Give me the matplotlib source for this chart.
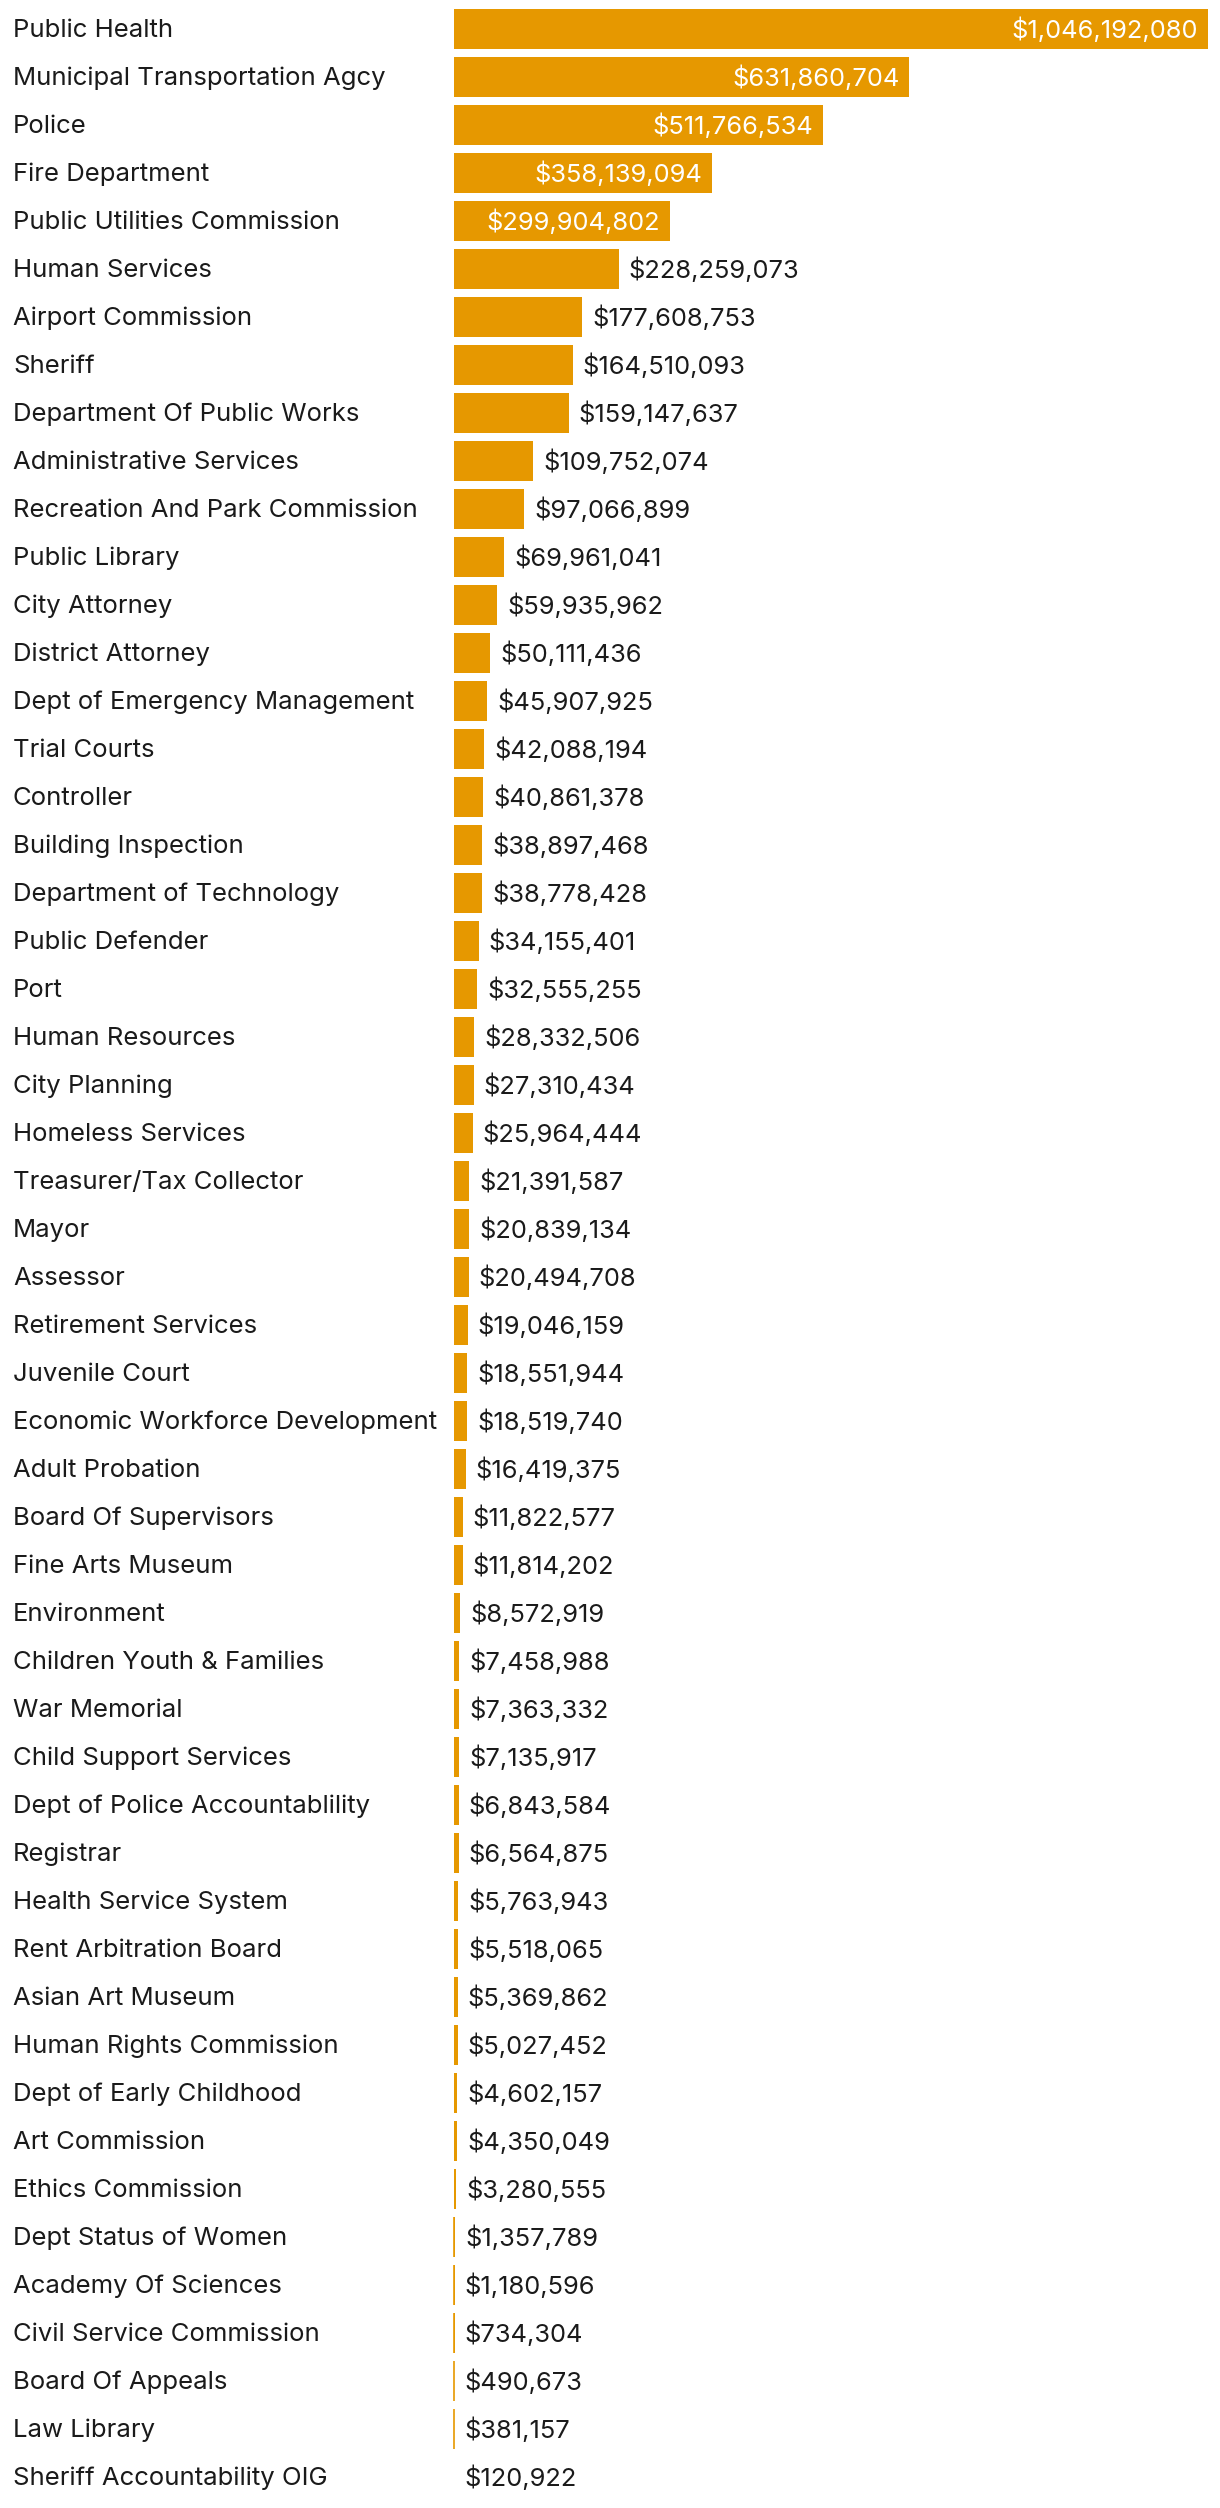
import matplotlib
matplotlib.use("Agg")
import matplotlib.pyplot as plt
import matplotlib.transforms as mtransforms

plt.rcParams['font.family'] = ['Inter', 'DejaVu Sans']

departments = [
    'Public Health', 'Municipal Transportation Agcy', 'Police', 'Fire Department',
    'Public Utilities Commission', 'Human Services', 'Airport Commission', 'Sheriff',
    'Department Of Public Works', 'Administrative Services', 'Recreation And Park Commission',
    'Public Library', 'City Attorney', 'District Attorney', 'Dept of Emergency Management',
    'Trial Courts', 'Controller', 'Building Inspection', 'Department of Technology',
    'Public Defender', 'Port', 'Human Resources', 'City Planning', 'Homeless Services',
    'Treasurer/Tax Collector', 'Mayor', 'Assessor', 'Retirement Services', 'Juvenile Court',
    'Economic Workforce Development', 'Adult Probation', 'Board Of Supervisors',
    'Fine Arts Museum', 'Environment', 'Children Youth & Families', 'War Memorial',
    'Child Support Services', 'Dept of Police Accountablility', 'Registrar',
    'Health Service System', 'Rent Arbitration Board', 'Asian Art Museum',
    'Human Rights Commission', 'Dept of Early Childhood', 'Art Commission',
    'Ethics Commission', 'Dept Status of Women', 'Academy Of Sciences',
    'Civil Service Commission', 'Board Of Appeals', 'Law Library', 'Sheriff Accountability OIG',
]
budget = [
    1046192080, 631860704, 511766534, 358139094, 299904802, 228259073, 177608753,
    164510093, 159147637, 109752074, 97066899, 69961041, 59935962, 50111436, 45907925,
    42088194, 40861378, 38897468, 38778428, 34155401, 32555255, 28332506, 27310434,
    25964444, 21391587, 20839134, 20494708, 19046159, 18551944, 18519740, 16419375,
    11822577, 11814202, 8572919, 7458988, 7363332, 7135917, 6843584, 6564875, 5763943,
    5518065, 5369862, 5027452, 4602157, 4350049, 3280555, 1357789, 1180596, 734304,
    490673, 381157, 120922,
]

bar_color = '#e69800'
text_color = '#1a1a1a'
W, H = 1220, 2508
fs_name = 18.5
fs_value = 18.3
dy = -1.2  # nudge text down a little (points)

fig = plt.figure(figsize=(W / 100, H / 100), dpi=100)
# rows are 48px apart, first centre at 29px from top
ax = fig.add_axes([454 / W, 7 / H, (1208 - 454) / W, 2496 / H])
n = len(departments)
ypos = list(range(n))
ax.barh(ypos, budget, height=40 / 48, color=bar_color, linewidth=0)
# tiny bars still get a hairline, like the original
for y, v in zip(ypos, budget):
    if 250000 < v < 2000000:
        ax.plot([0, 0], [y - 20 / 48, y + 20 / 48], color=bar_color, lw=1.2,
                solid_capstyle='butt', clip_on=False)
ax.set_xlim(0, max(budget))
ax.set_ylim(n - 0.5, -0.5)
ax.axis('off')

trans = mtransforms.blended_transform_factory(fig.transFigure, ax.transData)
for y, name, v in zip(ypos, departments, budget):
    ax.annotate(name, (13 / W, y), xycoords=trans, xytext=(0, dy),
                textcoords='offset points', ha='left', va='center',
                fontsize=fs_name, color=text_color)
    label = '${:,}'.format(v)
    if v > 0.25 * max(budget):
        ax.annotate(label, (v, y), xytext=(-7.2, dy), textcoords='offset points',
                    ha='right', va='center', fontsize=fs_value, color='white')
    else:
        ax.annotate(label, (v, y), xytext=(7.2, dy), textcoords='offset points',
                    ha='left', va='center', fontsize=fs_value, color=text_color)

fig.savefig('out.png', dpi=100, facecolor='white')
